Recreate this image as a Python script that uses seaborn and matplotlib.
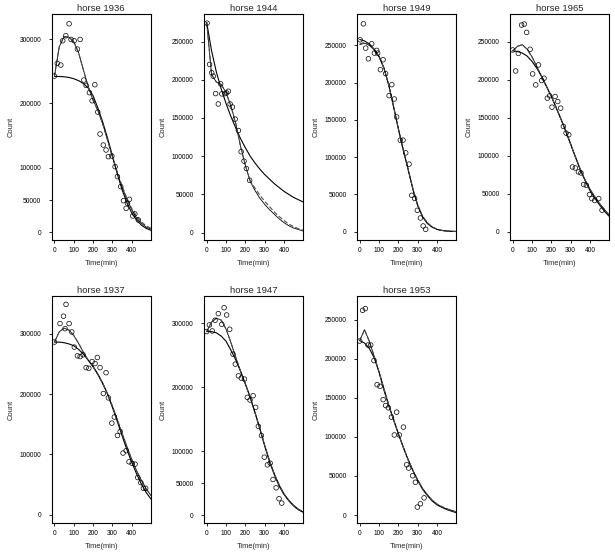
import matplotlib
matplotlib.use("Agg")
import matplotlib.pyplot as plt
import pandas as pd
import seaborn as sns

# ------------------------------------------------------------------ #
#                               DATA                                 #
# ------------------------------------------------------------------ #

fit_time = [0, 25, 50, 75, 100, 125, 150, 175, 200, 225, 250,
            275, 300, 325, 350, 375, 400, 425, 450, 475, 500]

# horse 1936
time_1936 = [0, 15, 33, 43, 59, 76, 86, 102, 119, 133, 152, 164, 181, 195, 209, 224,
             236, 253, 267, 279, 297, 314, 326, 343, 357, 371, 378, 388, 405, 416, 434]
count_1936 = [242600, 262300, 259700, 297500, 305200, 323800, 299500, 297500, 284500,
              299500, 236400, 228100, 216800, 204300, 229200, 186700, 152600, 135500,
              127800, 117400, 118500, 101900, 86400, 70900, 49100, 37200, 45000, 51200,
              25300, 28500, 19100]
flat_1936 = [242000, 242000, 241500, 240500, 238500, 235500, 231000, 224000, 212000, 193000,
             171000, 146000, 119000, 91000, 66000, 46000, 30000, 19000, 11000, 6000, 3000]
hump_1936 = [242000, 288000, 304000, 303000, 296000, 279000, 252000, 226000, 205000, 189000,
             168000, 143000, 117000, 92000, 70000, 51000, 35000, 22000, 14000, 8000, 5000]
dash_1936 = [242000, 288000, 304000, 303000, 296000, 279000, 252000, 226000, 205000, 189000,
             168000, 143000, 118000, 94000, 72000, 53000, 37000, 25000, 16000, 10000, 6000]

# horse 1944
time_1944 = [2, 15, 26, 34, 46, 60, 72, 78, 95, 103, 112, 121, 133, 147, 164, 178, 193, 205, 222]
count_1944 = [274000, 220100, 209100, 204700, 181900, 168300, 194600, 181500, 181900, 182800,
              185000, 168300, 164300, 148500, 133600, 105900, 93600, 83900, 68500]
flat_1944 = [275000, 238000, 210000, 188000, 169000, 152000, 137000, 123000, 111000, 100000,
             91000, 83000, 76000, 70000, 64000, 59000, 54000, 50000, 46000, 43000, 40000]
hump_1944 = [275000, 207000, 197000, 194000, 183000, 166000, 143000, 113000, 88000, 67000,
             55000, 45000, 37000, 30000, 24000, 18000, 13000, 9000, 6000, 4000, 2000]
dash_1944 = [275000, 207000, 197000, 194000, 183000, 166000, 143000, 113000, 88000, 68000,
             58000, 49000, 41000, 34000, 27000, 21000, 16000, 11000, 8000, 5000, 3000]

# horse 1949
time_1949 = [2, 19, 31, 45, 62, 76, 88, 93, 107, 121, 134, 152, 166, 179, 191, 210, 224,
             238, 255, 269, 284, 298, 314, 328, 341]
count_1949 = [257600, 279000, 246400, 232100, 252200, 239700, 243300, 239700, 217400, 230800,
              212100, 182600, 197300, 178100, 154000, 122800, 122800, 105800, 90600, 48700,
              44600, 28600, 18300, 7600, 3100]
flat_1949 = [258000, 256000, 252000, 245000, 235000, 220000, 197000, 168000, 138000, 110000,
             84000, 57000, 35000, 20000, 11000, 6000, 3000, 1500, 800, 400, 200]
hump_1949 = [251000, 253000, 250000, 244000, 235000, 220000, 197000, 168000, 138000, 110000,
             84000, 57000, 35000, 20000, 11000, 6000, 3000, 1500, 800, 400, 200]
dash_1949 = [252000, 254000, 251000, 244000, 235000, 220000, 197000, 168000, 138000, 110000,
             84000, 58000, 36000, 21000, 12000, 6500, 3300, 1700, 900, 500, 300]

# horse 1965
time_1965 = [0, 15, 29, 46, 60, 72, 90, 103, 119, 133, 150, 162, 179, 191, 203, 219, 233,
             248, 262, 276, 290, 309, 324, 340, 353, 367, 381, 397, 409, 424, 445, 462]
count_1965 = [239100, 211500, 234700, 271900, 273200, 262200, 240000, 207600, 193200, 219400,
              198900, 201900, 175700, 178800, 163900, 177900, 171300, 162600, 138600, 129800,
              127600, 85200, 83900, 78700, 77400, 62100, 61200, 49000, 43700, 41100, 43700, 28400]
flat_1965 = [238000, 237000, 235000, 231000, 224000, 215000, 204000, 191000, 178000, 163000,
             148000, 132000, 115000, 98000, 81000, 67000, 54000, 44000, 35000, 27000, 20000]
hump_1965 = [238000, 244000, 246000, 240000, 230000, 217000, 204000, 191000, 178000, 163000,
             148000, 132000, 115000, 98000, 82000, 68000, 56000, 46000, 37000, 29000, 22000]
dash_1965 = [238000, 244000, 246000, 240000, 230000, 217000, 204000, 191000, 178000, 163000,
             148000, 132000, 115000, 98000, 82000, 68000, 56000, 46000, 37000, 29000, 22000]

# horse 1937
time_1937 = [0, 29, 47, 60, 55, 76, 90, 103, 119, 133, 148, 164, 178, 195, 210, 222, 236,
             253, 267, 279, 297, 310, 326, 340, 355, 371, 386, 402, 417, 431, 447, 460, 472]
count_1937 = [286100, 316700, 328900, 348400, 308300, 316700, 302800, 277700, 263300, 262100,
              264900, 243800, 242700, 253800, 250500, 260500, 243800, 200900, 235400, 193700,
              151900, 162000, 131400, 138000, 102400, 106300, 87900, 85200, 84000, 61800,
              53400, 44000, 44000]
flat_1937 = [286000, 286000, 285000, 283000, 280000, 274000, 266000, 256000, 246000, 233000,
             218000, 200000, 178000, 155000, 131000, 108000, 87000, 68000, 51000, 37000, 26000]
hump_1937 = [286000, 303000, 309000, 306000, 297000, 284000, 269000, 256000, 245000, 232000,
             217000, 200000, 180000, 158000, 135000, 113000, 92000, 73000, 57000, 43000, 32000]
dash_1937 = [286000, 303000, 309000, 306000, 297000, 284000, 269000, 256000, 245000, 232000,
             217000, 200000, 180000, 158000, 135000, 113000, 92000, 73000, 57000, 43000, 32000]

# horse 1947
time_1947 = [0, 14, 29, 43, 60, 78, 90, 103, 119, 136, 148, 164, 179, 195, 210, 224, 240,
             253, 267, 283, 298, 314, 328, 343, 359, 374, 388]
count_1947 = [287000, 297400, 288000, 304700, 315100, 298400, 324400, 313000, 290600, 251600,
              236100, 217800, 214200, 212700, 184100, 179900, 186700, 168500, 138800, 124300,
              90500, 78500, 81100, 55600, 42600, 25500, 18700]
flat_1947 = [287000, 287000, 285000, 280000, 272000, 258000, 243000, 225000, 205000, 184000,
             160000, 135000, 108000, 83000, 63000, 45000, 32000, 22000, 14000, 8000, 4000]
hump_1947 = [287000, 302000, 308000, 305000, 291000, 270000, 247000, 225000, 205000, 184000,
             160000, 135000, 109000, 85000, 64000, 47000, 33000, 23000, 15000, 9000, 5000]
dash_1947 = [287000, 302000, 308000, 305000, 291000, 270000, 247000, 225000, 205000, 184000,
             160000, 135000, 109000, 85000, 64000, 47000, 33000, 23000, 15000, 9000, 5000]

# horse 1953
time_1953 = [0, 15, 29, 43, 57, 74, 90, 105, 121, 134, 148, 164, 179, 191, 205, 226, 243,
             253, 274, 288, 298, 314, 333]
count_1953 = [222500, 261800, 264000, 217400, 217400, 197500, 166700, 164600, 147600, 140000,
              137100, 125200, 102400, 131600, 102400, 112500, 64300, 60100, 50300, 41900,
              10200, 14400, 22000]
flat_1953 = [223000, 220000, 213000, 201000, 183000, 160000, 140000, 122000, 104000, 87000,
             71000, 57000, 44000, 33000, 25000, 18000, 13000, 10000, 7000, 5000, 3000]
hump_1953 = [223000, 237000, 222000, 203000, 183000, 162000, 141000, 122000, 104000, 87000,
             71000, 57000, 45000, 34000, 26000, 19000, 14000, 10000, 8000, 6000, 4000]
dash_1953 = [223000, 237000, 222000, 203000, 183000, 162000, 141000, 122000, 104000, 87000,
             71000, 57000, 45000, 34000, 26000, 19000, 14000, 11000, 8000, 6000, 4000]

# y ticks shown in each panel
yticks_1936 = [0, 50000, 100000, 200000, 300000]
yticks_1944 = [0, 50000, 100000, 150000, 200000, 250000]
yticks_1949 = [0, 50000, 100000, 150000, 200000, 250000]
yticks_1965 = [0, 50000, 100000, 150000, 200000, 250000]
yticks_1937 = [0, 100000, 200000, 300000]
yticks_1947 = [0, 50000, 100000, 200000, 300000]
yticks_1953 = [0, 50000, 100000, 150000, 200000, 250000]
xticks = [0, 100, 200, 300, 400]

panels = [
    ("horse 1936", time_1936, count_1936, flat_1936, hump_1936, dash_1936, yticks_1936, (-12000, 339000)),
    ("horse 1944", time_1944, count_1944, flat_1944, hump_1944, dash_1944, yticks_1944, (-9600, 286000)),
    ("horse 1949", time_1949, count_1949, flat_1949, hump_1949, dash_1949, yticks_1949, (-11250, 292200)),
    ("horse 1965", time_1965, count_1965, flat_1965, hump_1965, dash_1965, yticks_1965, (-10800, 286400)),
    ("horse 1937", time_1937, count_1937, flat_1937, hump_1937, dash_1937, yticks_1937, (-13400, 362300)),
    ("horse 1947", time_1947, count_1947, flat_1947, hump_1947, dash_1947, yticks_1947, (-12500, 342700)),
    ("horse 1953", time_1953, count_1953, flat_1953, hump_1953, dash_1953, yticks_1953, (-10150, 280100)),
]

# ------------------------------------------------------------------ #
#                               PLOT                                 #
# ------------------------------------------------------------------ #

sns.set_style("ticks")
plt.rcParams["font.family"] = ["Liberation Sans", "DejaVu Sans"]
plt.rcParams["axes.edgecolor"] = "black"
plt.rcParams["axes.linewidth"] = 0.8
plt.rcParams["xtick.color"] = "black"
plt.rcParams["ytick.color"] = "black"

W, H = 615, 556
fig = plt.figure(figsize=(W / 100, H / 100), dpi=100)

col_left = [51.7, 204, 357, 510]
ax_w = 99
rows = [(14, 240), (296, 523)]


def draw_panel(ax, title, t, c, flat, hump, dash, yticks, ylim, ax_h):
    sns.lineplot(x=fit_time, y=flat, ax=ax, color="black", linewidth=0.8, estimator=None)
    sns.lineplot(x=fit_time, y=hump, ax=ax, color="black", linewidth=0.6, estimator=None)
    sns.lineplot(x=fit_time, y=dash, ax=ax, color="0.3", linewidth=0.8,
                 linestyle=(0, (4, 2)), estimator=None)
    sns.scatterplot(x=t, y=c, ax=ax, marker="o", s=11, facecolors="none",
                    edgecolor="black", linewidth=0.5, zorder=3)
    ax.set_xlim(-14, 498)
    ax.set_ylim(*ylim)
    ax.set_xticks(xticks)
    ax.set_xticklabels([str(v) for v in xticks], fontsize=4.8)
    ax.set_yticks(yticks)
    ax.set_yticklabels([str(v) for v in yticks], fontsize=4.8)
    ax.tick_params(axis="both", direction="out", length=2.5, width=0.6)
    ax.tick_params(axis="y", pad=5)
    ax.tick_params(axis="x", pad=2.5)
    ax.set_title(title, fontsize=6.8, pad=2.5)
    ax.set_xlabel("Time(min)", fontsize=5.4)
    ax.set_ylabel("Count", fontsize=5.4)
    ax.xaxis.set_label_coords(0.5, -20 / ax_h)
    ax.yaxis.set_label_coords(-37 / ax_w, 0.5)


for i, (title, t, c, flat, hump, dash, yticks, ylim) in enumerate(panels):
    r, col = divmod(i, 4)
    top, bottom = rows[r]
    ax = fig.add_axes([col_left[col] / W, 1 - bottom / H, ax_w / W, (bottom - top) / H])
    draw_panel(ax, title, t, c, flat, hump, dash, yticks, ylim, bottom - top)

fig.savefig("out.png", dpi=100)
